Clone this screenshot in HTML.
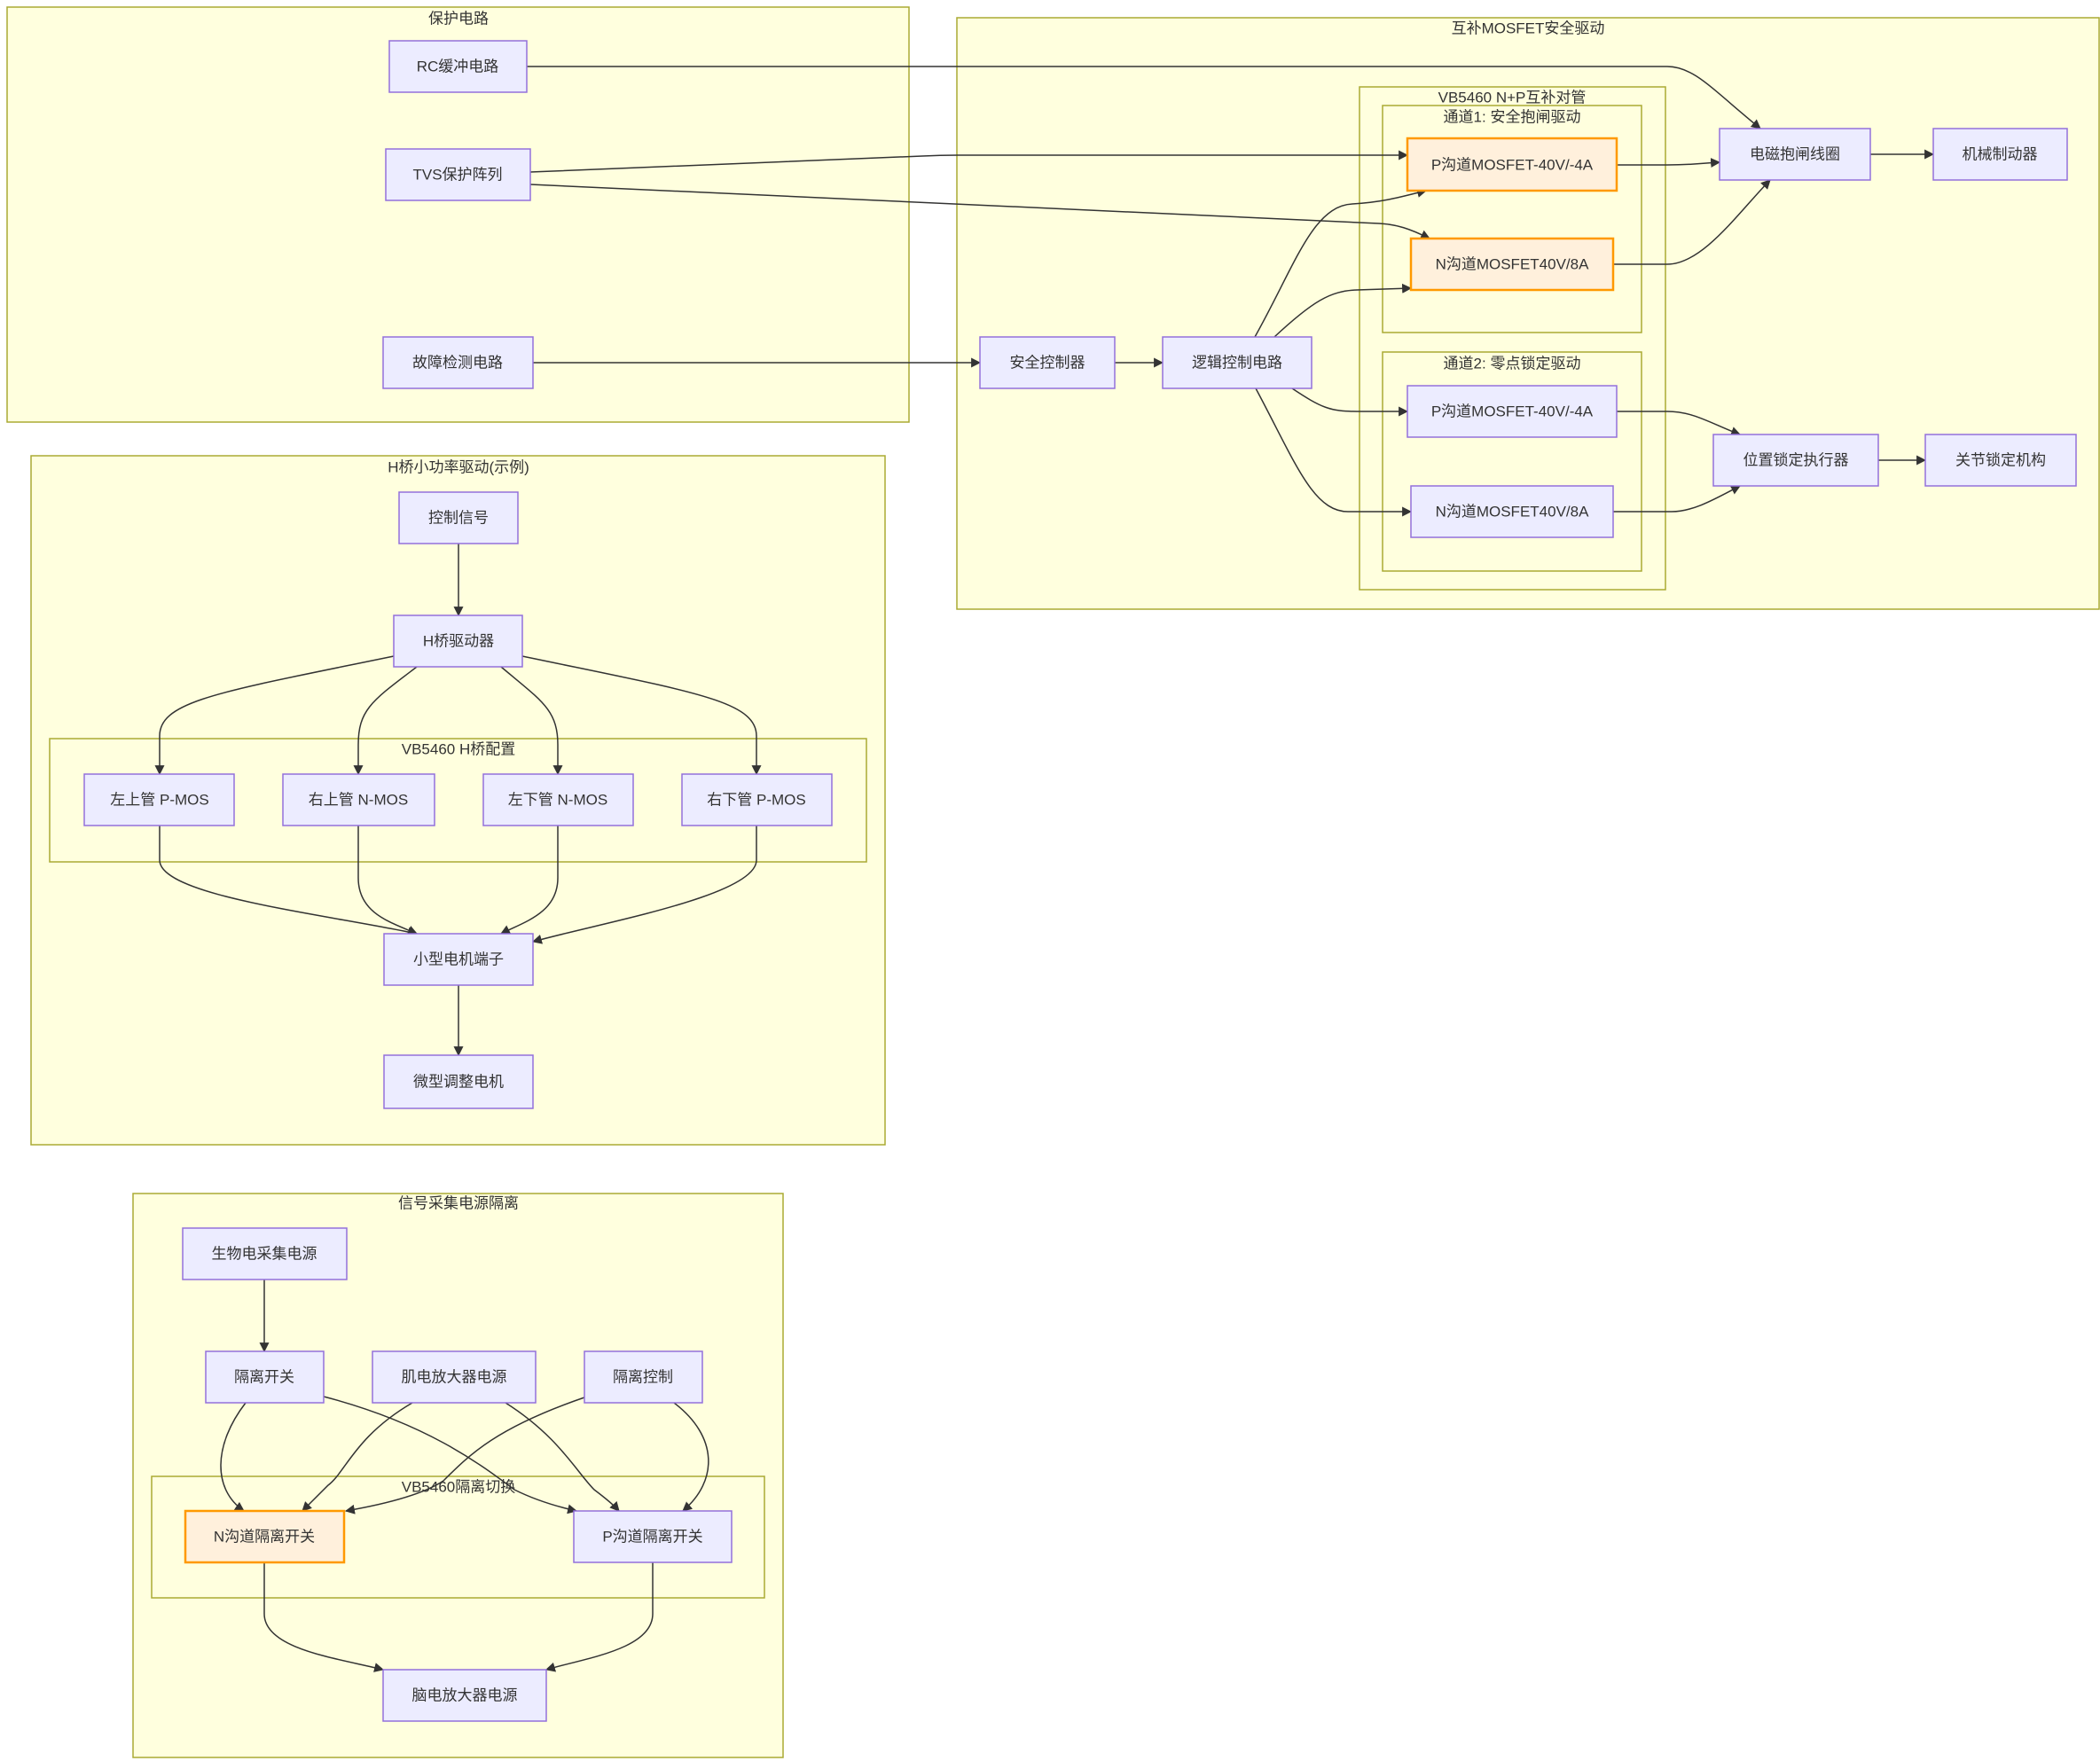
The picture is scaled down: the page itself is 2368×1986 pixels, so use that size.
<!DOCTYPE html>
<html><head><meta charset="utf-8">
<style>
html,body{margin:0;padding:0;background:#fff;}
svg{display:block;}
text{font-family:"Liberation Sans","Noto Sans CJK SC",sans-serif;fill:#333;font-size:17px;text-anchor:middle;dominant-baseline:central;}
.cl{fill:#FFFFDE;stroke:#AAAA33;stroke-width:1.5;}
.nd{fill:#ECECFF;stroke:#9370DB;stroke-width:1.5;}
.or{fill:#FFF0DC;stroke:#FF9900;stroke-width:2.5;}
.e{fill:none;stroke:#333;stroke-width:1.5;marker-end:url(#a);}
</style></head><body>
<svg width="2368" height="1986" viewBox="0 0 2368 1986" xmlns="http://www.w3.org/2000/svg">
<defs><marker id="a" viewBox="0 0 10 10" refX="9" refY="5" markerWidth="11" markerHeight="11" markerUnits="userSpaceOnUse" orient="auto"><path d="M0,0 L10,5 L0,10 z" fill="#333"/></marker></defs>

<!-- clusters -->
<rect class="cl" x="8" y="8" width="1017" height="468"/>
<text x="517" y="21">保护电路</text>
<rect class="cl" x="1079" y="20" width="1288" height="667"/>
<text x="1723" y="32">互补MOSFET安全驱动</text>
<rect class="cl" x="1533" y="98" width="345" height="567"/>
<text x="1705" y="110">VB5460 N+P互补对管</text>
<rect class="cl" x="1559" y="119" width="292" height="256"/>
<text x="1705" y="132">通道1: 安全抱闸驱动</text>
<rect class="cl" x="1559" y="397" width="292" height="247"/>
<text x="1705" y="410">通道2: 零点锁定驱动</text>
<rect class="cl" x="35" y="514" width="963" height="777"/>
<text x="517" y="527">H桥小功率驱动(示例)</text>
<rect class="cl" x="56" y="833" width="921" height="139"/>
<text x="517" y="845">VB5460 H桥配置</text>
<rect class="cl" x="150" y="1346" width="733" height="636"/>
<text x="517" y="1357">信号采集电源隔离</text>
<rect class="cl" x="171" y="1665" width="691" height="137"/>
<text x="517" y="1677">VB5460隔离切换</text>

<!-- edges -->
<path class="e" d="M594,75 L1880,75 C1910,75 1930,100 1985,145"/>
<path class="e" d="M598,194 L1040,176 Q1060,175 1080,175 L1587,175"/>
<path class="e" d="M598,208 L1555,252 C1575,253 1590,258 1612,269"/>
<path class="e" d="M601,409 L1105,409"/>
<path class="e" d="M1257,409 L1311,409"/>
<path class="e" d="M1415,380 C1460,300 1480,232 1525,230 C1560,228 1580,222 1608,215"/>
<path class="e" d="M1437,380 C1480,340 1500,328 1530,327 L1591,325"/>
<path class="e" d="M1457,438 C1490,460 1500,464 1530,464 L1587,464"/>
<path class="e" d="M1416,438 C1460,520 1480,577 1520,577 L1591,577"/>
<path class="e" d="M1823,186 L1880,186 C1910,186 1920,184 1939,183"/>
<path class="e" d="M1819,298 L1880,298 C1920,298 1960,240 1996,203"/>
<path class="e" d="M2109,174 L2180,174"/>
<path class="e" d="M1823,464 L1880,464 C1910,464 1930,478 1962,490"/>
<path class="e" d="M1819,577 L1885,577 C1910,577 1935,562 1962,548"/>
<path class="e" d="M2118,519 L2171,519"/>

<path class="e" d="M517,613 L517,694"/>
<path class="e" d="M444,740 C250,780 180,790 180,830 L180,873"/>
<path class="e" d="M470,752 C420,790 404,800 404,840 L404,873"/>
<path class="e" d="M565,752 C610,790 629,800 629,840 L629,873"/>
<path class="e" d="M589,740 C780,780 853,790 853,830 L853,873"/>
<path class="e" d="M180,931 L180,970 C180,1010 360,1030 470,1053"/>
<path class="e" d="M404,931 L404,990 C404,1030 440,1040 470,1053"/>
<path class="e" d="M629,931 L629,990 C629,1030 590,1040 565,1053"/>
<path class="e" d="M853,931 L853,970 C853,1010 680,1040 601,1062"/>
<path class="e" d="M517,1111 L517,1190"/>

<path class="e" d="M298,1443 L298,1524"/>
<path class="e" d="M277,1582 C240,1630 240,1680 275,1704"/>
<path class="e" d="M365,1575 C480,1605 540,1650 580,1680 Q610,1695 650,1704"/>
<path class="e" d="M465,1582 C400,1620 390,1660 370,1675 Q350,1695 341,1704"/>
<path class="e" d="M570,1582 C630,1620 650,1660 670,1680 Q690,1695 698,1704"/>
<path class="e" d="M659,1576 C560,1610 530,1640 500,1670 Q470,1690 390,1704"/>
<path class="e" d="M760,1582 C810,1620 810,1670 770,1704"/>
<path class="e" d="M298,1762 L298,1820 C298,1860 380,1870 432,1883"/>
<path class="e" d="M736,1762 L736,1820 C736,1860 660,1870 616,1883"/>

<!-- nodes -->
<rect class="nd" x="439" y="46" width="155" height="58"/><text x="516" y="75">RC缓冲电路</text>
<rect class="nd" x="435" y="168" width="163" height="58"/><text x="516" y="197">TVS保护阵列</text>
<rect class="nd" x="432" y="380" width="169" height="58"/><text x="516" y="409">故障检测电路</text>

<rect class="or" x="1587" y="156" width="236" height="59"/><text x="1705" y="186">P沟道MOSFET-40V/-4A</text>
<rect class="or" x="1591" y="269" width="228" height="58"/><text x="1705" y="298">N沟道MOSFET40V/8A</text>
<rect class="nd" x="1587" y="435" width="236" height="58"/><text x="1705" y="464">P沟道MOSFET-40V/-4A</text>
<rect class="nd" x="1591" y="548" width="228" height="58"/><text x="1705" y="577">N沟道MOSFET40V/8A</text>
<rect class="nd" x="1105" y="380" width="152" height="58"/><text x="1181" y="409">安全控制器</text>
<rect class="nd" x="1311" y="380" width="168" height="58"/><text x="1395" y="409">逻辑控制电路</text>
<rect class="nd" x="1939" y="145" width="170" height="58"/><text x="2024" y="174">电磁抱闸线圈</text>
<rect class="nd" x="2180" y="145" width="151" height="58"/><text x="2255" y="174">机械制动器</text>
<rect class="nd" x="1932" y="490" width="186" height="58"/><text x="2025" y="519">位置锁定执行器</text>
<rect class="nd" x="2171" y="490" width="170" height="58"/><text x="2256" y="519">关节锁定机构</text>

<rect class="nd" x="450" y="555" width="134" height="58"/><text x="517" y="584">控制信号</text>
<rect class="nd" x="444" y="694" width="145" height="58"/><text x="517" y="723">H桥驱动器</text>
<rect class="nd" x="95" y="873" width="169" height="58"/><text x="180" y="902">左上管 P-MOS</text>
<rect class="nd" x="319" y="873" width="171" height="58"/><text x="404" y="902">右上管 N-MOS</text>
<rect class="nd" x="545" y="873" width="169" height="58"/><text x="629" y="902">左下管 N-MOS</text>
<rect class="nd" x="769" y="873" width="169" height="58"/><text x="853" y="902">右下管 P-MOS</text>
<rect class="nd" x="433" y="1053" width="168" height="58"/><text x="517" y="1082">小型电机端子</text>
<rect class="nd" x="433" y="1190" width="168" height="60"/><text x="517" y="1220">微型调整电机</text>

<rect class="nd" x="206" y="1385" width="185" height="58"/><text x="298" y="1414">生物电采集电源</text>
<rect class="nd" x="232" y="1524" width="133" height="58"/><text x="298" y="1553">隔离开关</text>
<rect class="nd" x="420" y="1524" width="184" height="58"/><text x="512" y="1553">肌电放大器电源</text>
<rect class="nd" x="659" y="1524" width="133" height="58"/><text x="725" y="1553">隔离控制</text>
<rect class="or" x="209" y="1704" width="179" height="58"/><text x="298" y="1733">N沟道隔离开关</text>
<rect class="nd" x="647" y="1704" width="178" height="58"/><text x="736" y="1733">P沟道隔离开关</text>
<rect class="nd" x="432" y="1883" width="184" height="58"/><text x="524" y="1912">脑电放大器电源</text>
</svg>
</body></html>
